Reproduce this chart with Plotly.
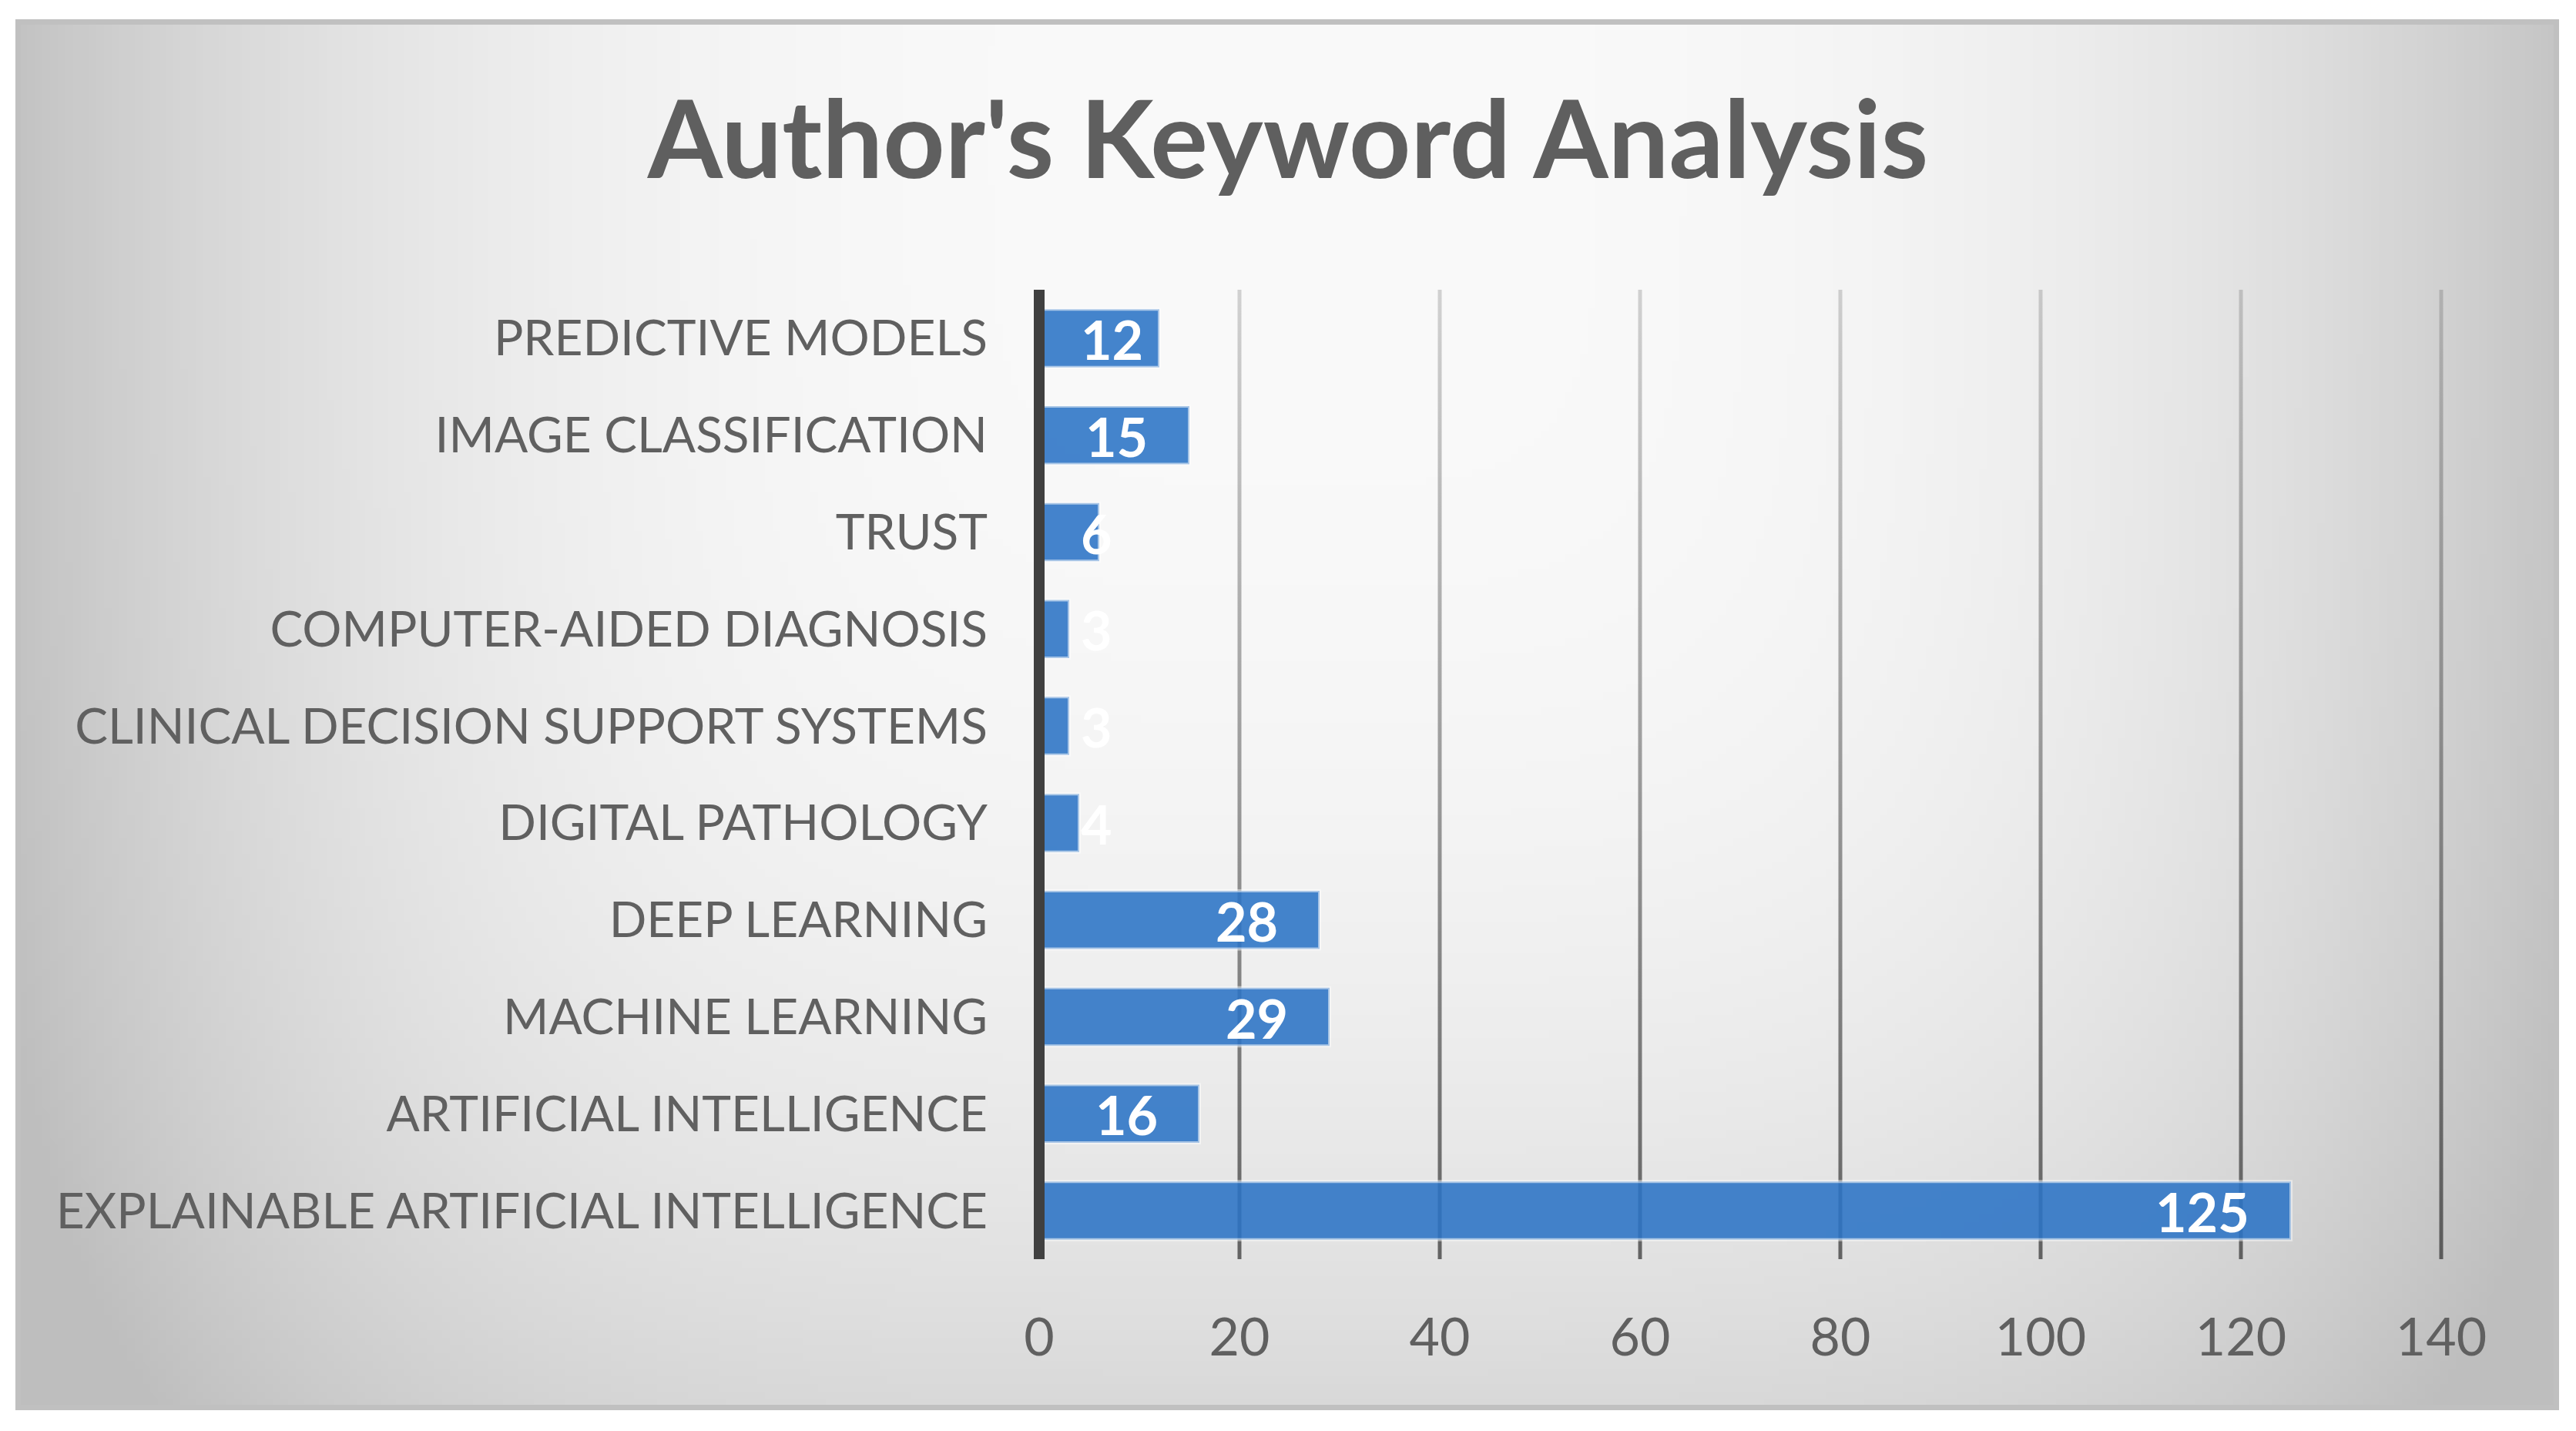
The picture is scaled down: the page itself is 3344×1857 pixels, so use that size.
import base64
import struct
import zlib

import numpy as np
import plotly.graph_objects as go

# ---------------- data ----------------
categories = [
    "EXPLAINABLE ARTIFICIAL INTELLIGENCE",
    "ARTIFICIAL INTELLIGENCE",
    "MACHINE LEARNING",
    "DEEP LEARNING",
    "DIGITAL PATHOLOGY",
    "CLINICAL DECISION SUPPORT SYSTEMS",
    "COMPUTER-AIDED DIAGNOSIS",
    "TRUST",
    "IMAGE CLASSIFICATION",
    "PREDICTIVE MODELS",
]
counts = [125, 16, 29, 28, 4, 3, 3, 6, 15, 12]
tick_values = [0, 20, 40, 60, 80, 100, 120, 140]
tick_labels = ["0", "20", "40", "60", "80", "100", "120", "140"]
title_text = "Author's Keyword Analysis"

# ---------------- geometry ----------------
# page size and the 8px body margin of the html page
PAGE_W, PAGE_H = 3344, 1857
OFF = 8
W, H = PAGE_W - 2 * OFF, PAGE_H - 2 * OFF - 1

def fx(px):  # page x -> figure x
    return px - OFF

def fy(py):  # page y -> figure y
    return py - OFF

PLOT_X0, PLOT_X1 = 1349, 3182   # page px of x=0 and x=XMAX
PLOT_Y0, PLOT_Y1 = 376, 1634    # page px of plot top / bottom
XMAX = 141
L = fx(PLOT_X0)
R = W - fx(PLOT_X1)
T = fy(PLOT_Y0)
B = H - fy(PLOT_Y1)
pw, ph = W - L - R, H - T - B
px_per_unit = pw / XMAX

def paper_x(page_px):
    return (fx(page_px) - L) / pw

def paper_y(page_py):
    return (H - B - fy(page_py)) / ph

# outer frame (page px)
FX0, FY0, FX1, FY1 = 20, 25, 3322, 1830

# ---------------- background gradient as PNG ----------------
def make_png(arr):
    h, w = arr.shape
    raw = b"".join(b"\x00" + bytes(row) for row in arr.astype(np.uint8))
    def chunk(tag, data):
        c = struct.pack(">I", len(data)) + tag + data
        return c + struct.pack(">I", zlib.crc32(tag + data) & 0xFFFFFFFF)
    ihdr = struct.pack(">IIBBBBB", w, h, 8, 0, 0, 0, 0)
    return (b"\x89PNG\r\n\x1a\n" + chunk(b"IHDR", ihdr)
            + chunk(b"IDAT", zlib.compress(raw, 9)) + chunk(b"IEND", b""))

gw, gh = 331, 181
xs = np.linspace(FX0, FX1, gw)
ys = np.linspace(FY0, FY1, gh)
XX, YY = np.meshgrid(xs, ys)
cx, cy, ax_, ay_ = 1680.0, 150.0, 1660.0, 2000.0
d = (np.abs((XX - cx) / ax_) ** 4 + np.abs((YY - cy) / ay_) ** 4) ** 0.25
val = np.clip(250 - 54 * d ** 2.8, 190, 252)
bg_src = "data:image/png;base64," + base64.b64encode(make_png(val)).decode()

# ---------------- figure ----------------
fig = go.Figure()

# gridlines (vertical gradient, drawn beneath the bars)
half_w = 2.5 / px_per_unit
for v in tick_values[1:]:
    fig.add_trace(go.Scatter(
        x=[v - half_w, v + half_w, v + half_w, v - half_w, v - half_w],
        y=[0, 0, 1, 1, 0],
        xaxis="x", yaxis="y",
        mode="none", fill="toself",
        fillgradient=dict(type="vertical",
                          colorscale=[[0, "rgba(50,50,50,0.72)"],
                                      [1, "rgba(50,50,50,0.2)"]],
                          start=0, stop=1),
        hoverinfo="skip", showlegend=False,
    ))

fig.add_trace(go.Bar(
    x=counts, y=categories, orientation="h",
    xaxis="x", yaxis="y2",
    width=0.6,
    marker=dict(color="rgb(44,116,198)",
                line=dict(color="rgba(255,255,255,0.55)", width=4)),
    opacity=0.88,
    hoverinfo="x+y", showlegend=False,
))

# value labels, Excel "inside end" style
pad_units = 52 / px_per_unit
digit_units = 35 / px_per_unit
min_left = 52 / px_per_unit
annotations = []
for cat, c in zip(categories, counts):
    wtxt = len(str(c)) * digit_units
    if c - pad_units - wtxt < min_left:
        ax_pos, anchor = min_left, "left"
    else:
        ax_pos, anchor = c - pad_units, "right"
    annotations.append(dict(
        x=ax_pos, y=cat, xref="x", yref="y2", text=str(c),
        xanchor=anchor, yanchor="middle", yshift=-1, showarrow=False,
        font=dict(family="Lato", size=70, color="white", weight="bold"),
    ))

fig.update_layout(
    width=W, height=H,
    margin=dict(l=L, r=R, t=T, b=B, pad=0),
    paper_bgcolor="white",
    plot_bgcolor="rgba(0,0,0,0)",
    title=dict(text=title_text,
               x=(PAGE_W / 2 - OFF) / W, xref="container", xanchor="center",
               y=1 - fy(182) / H, yref="container", yanchor="middle",
               font=dict(family="Lato", size=140, color="#5f5f5f", weight="bold")),
    xaxis=dict(range=[0, XMAX], tickvals=tick_values, ticktext=tick_labels,
               showgrid=False, zeroline=False, showline=False, ticks="",
               tickfont=dict(family="Lato", size=68, color="#606060"),
               ticklabelstandoff=56, fixedrange=True),
    yaxis=dict(range=[0, 1], visible=False, fixedrange=True),
    yaxis2=dict(overlaying="y", anchor="x", side="left", type="category",
                categoryorder="array", categoryarray=categories,
                range=[-0.5, len(categories) - 0.5],
                showgrid=False, zeroline=False, showline=False, ticks="",
                tickfont=dict(family="Lato", size=64, color="#606060"),
                ticklabelstandoff=66, fixedrange=True),
    annotations=annotations,
    images=[dict(source=bg_src, xref="paper", yref="paper",
                 x=paper_x(FX0), y=paper_y(FY0),
                 sizex=(FX1 - FX0) / pw, sizey=(FY1 - FY0) / ph,
                 xanchor="left", yanchor="top", sizing="stretch",
                 layer="below")],
    shapes=[
        dict(type="rect", xref="paper", yref="paper",
             x0=paper_x(FX0 + 3.5), x1=paper_x(FX1 - 3.5),
             y0=paper_y(FY0 + 3.5), y1=paper_y(FY1 - 3.5),
             line=dict(color="#c0c0c0", width=7), layer="below"),
        dict(type="line", xref="paper", yref="paper", x0=0, x1=0, y0=0, y1=1,
             line=dict(color="#404040", width=14), layer="above"),
    ],
)

fig.write_html("out.html")
